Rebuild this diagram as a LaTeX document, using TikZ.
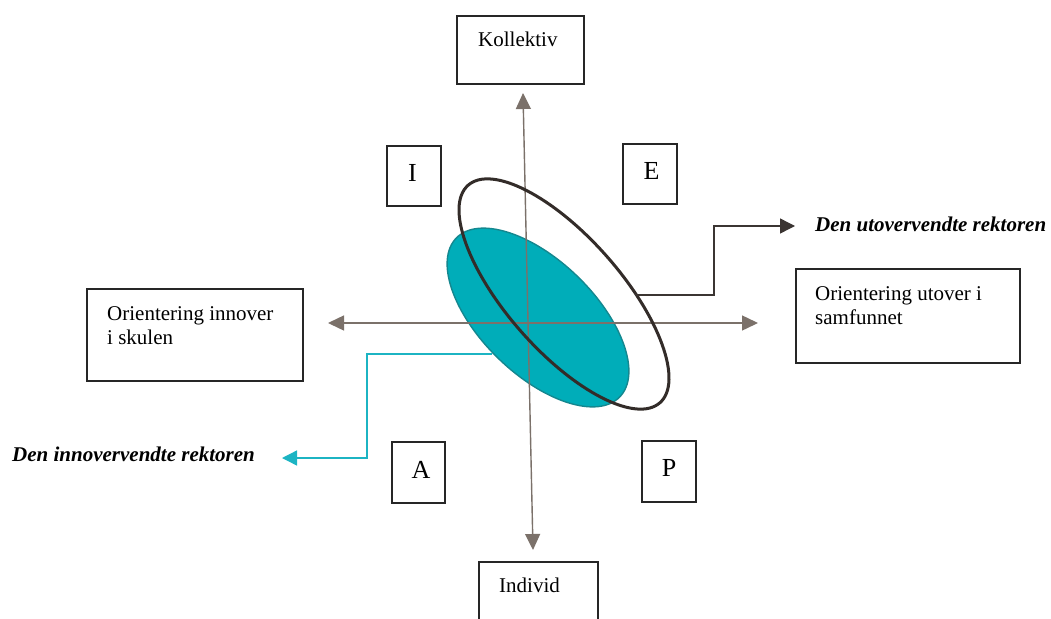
\documentclass[tikz,border=0pt]{standalone}
\usepackage{fontspec}
\setmainfont{Liberation Serif}
\usetikzlibrary{arrows.meta,shapes.geometric}
\definecolor{axisgray}{HTML}{7B716A}
\definecolor{tealfill}{HTML}{00ADB9}
\definecolor{tealedge}{HTML}{14878F}
\definecolor{ringdark}{HTML}{332C29}
\definecolor{linkdark}{HTML}{3B3532}
\definecolor{linkcyan}{HTML}{1CB4C3}
\definecolor{framecol}{HTML}{262626}
\tikzset{
  frame/.style={draw=framecol, line width=1.2pt, inner sep=0pt, outer sep=0pt, rectangle},
  txt/.style={anchor=base west, inner sep=0pt, font=\fontsize{21}{23.5}\selectfont},
  letter/.style={anchor=base, inner sep=0pt, font=\fontsize{26}{28}\selectfont},
  rolelabel/.style={anchor=base west, inner sep=0pt, font=\fontsize{21}{24}\selectfont\bfseries\itshape},
  axis/.style={draw=axisgray, line width=1.4pt, {Triangle[length=16pt,width=15pt]}-{Triangle[length=16pt,width=15pt]}},
  link/.style={line width=1.4pt, -{Triangle[length=15pt,width=15pt]}},
}
\begin{document}
\begin{tikzpicture}[x=1pt,y=-1pt]
\useasboundingbox (0,0) rectangle (1051,618);

% dimension boxes (multi-line text is anchored at its last baseline)
\node[frame, minimum width=127, minimum height=68] (kol) at (520.5,50) {};
\node[txt] (koltxt) at (478,47) {Kollektiv};
\node[frame, minimum width=119, minimum height=72] (ind) at (538.5,598) {};
\node[txt] (indtxt) at (499,592.5) {Individ};
\node[frame, minimum width=216, minimum height=92] (inn) at (195,335) {};
\node[txt, align=left] (inntxt) at (107,344) {Orientering innover\\i skulen};
\node[frame, minimum width=224, minimum height=94] (utv) at (908,316) {};
\node[txt, align=left] (utvtxt) at (815,324) {Orientering utover i\\samfunnet};

% quadrant letters
\node[frame, minimum width=54, minimum height=60] (qi) at (414,176) {};
\node[letter] at (412.5,181) {I};
\node[frame, minimum width=54, minimum height=60] (qe) at (650,174) {};
\node[letter] at (651.5,179.5) {E};
\node[frame, minimum width=53, minimum height=61] (qa) at (418.5,472.5) {};
\node[letter] at (421,478.5) {A};
\node[frame, minimum width=54, minimum height=61] (qp) at (669,471.5) {};
\node[letter] at (669,476.5) {P};

% filled profile
\node[ellipse, draw=tealedge, fill=tealfill, line width=1.4pt, inner sep=0pt,
      minimum width=228, minimum height=114, rotate=-44.2] (inner) at (538,317.5) {};

% axes
\coordinate (vtop) at (523,93);
\coordinate (vbot) at (533,550);
\coordinate (hleft) at (328,323);
\coordinate (hright) at (758,323);
\draw[axis] (vtop) -- (vbot);
\draw[axis] (hleft) -- (hright);

% outlined profile
\node[ellipse, draw=ringdark, line width=3pt, inner sep=0pt,
      minimum width=290, minimum height=114, rotate=-48.6] (ring) at (564,294) {};

% role labels and their pointers
\node[rolelabel] (utlabel) at (815,231.5) {Den utovervendte rektoren};
\node[rolelabel] (inlabel) at (12,461) {Den innovervendte rektoren};
\coordinate (utstart) at (635,295);
\coordinate (utend) at (795,226);
\coordinate (instart) at (492,354);
\coordinate (inend) at (282,458);
\draw[link, draw=linkdark] (utstart) -- ++(79,0) |- (utend);
\draw[link, draw=linkcyan] (instart) -- ++(-125,0) |- (inend);
\end{tikzpicture}
\end{document}
